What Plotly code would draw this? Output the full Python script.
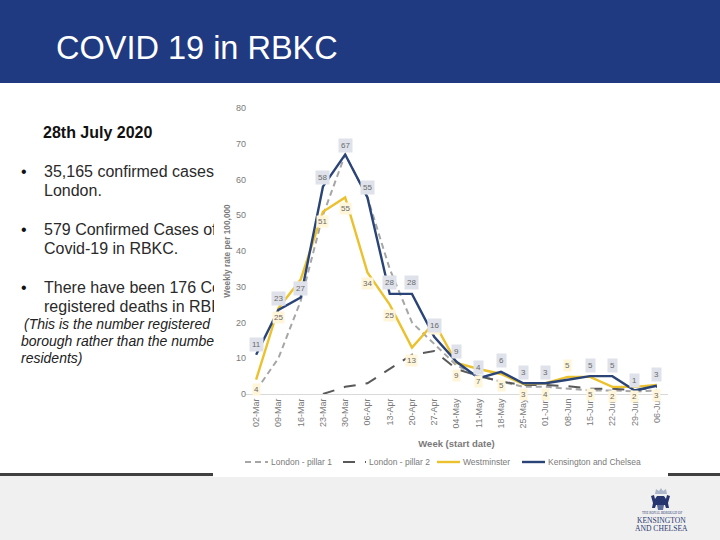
import plotly.graph_objects as go

weeks = ["02-Mar","09-Mar","16-Mar","23-Mar","30-Mar","06-Apr","13-Apr","20-Apr","27-Apr","04-May",
         "11-May","18-May","25-May","01-Jun","08-Jun","15-Jun","22-Jun","29-Jun","06-Jul"]
london_p1 = [1,10,26,50,67,55,35,20,14,8,5,3.5,2,2,1.5,1,1,0.7,1]
london_p2 = [None,None,None,0,2,3,7,11,12,7,5,3.5,2.5,2.5,2.2,1.5,1.5,1,2]
westminster = [4,24,32,51,55,34,25,13,20,8.7,7,5.6,2.8,3,4.8,4.8,2,2,2.5]
rbkc = [11,23.5,27,58,67,55,28,28,16,9,4.4,6.2,3,3,4,5,5,1,2.3]
west_labels = ["4","25","32","51","55","34","25","13","15","9","7","5","3","4","5","5","2","2","3"]
rbkc_labels = ["11","23","27","58","67","55","28","28","16","9","4","6","3","3",None,"5","5","1","3"]
west_label_shift = [-10,-9,-8,-10,-11,-11,-11,-13,-6,-13,-13,-12,-11,-11,11,-18,-10,-10,-10]
rbkc_label_shift = [10,11,9,9,9,10,11,11,11,10,11,11,11,11,10,11,11,10,11]
y_ticks = [0,10,20,30,40,50,60,70,80]

W, H = 720, 540
fx = lambda p: p / W
fy = lambda p: 1 - p / H
BLUE = "#1F3A80"
GREY = "#7A7A7A"
FONT = "Liberation Sans"
P1 = dict(color="#A6A6A6", width=2, dash="6px,4px")
P2 = dict(color="#595959", width=2, dash="12px,10px")
WM = dict(color="#EBC12E", width=2.4)
KC = dict(color="#2A4478", width=2.4)

fig = go.Figure()
fig.add_trace(go.Scatter(x=weeks, y=london_p1, name="London - pillar 1", mode="lines", line=P1))
fig.add_trace(go.Scatter(x=weeks, y=london_p2, name="London - pillar 2", mode="lines", line=P2))
fig.add_trace(go.Scatter(x=weeks, y=westminster, name="Westminster", mode="lines", line=WM))
fig.add_trace(go.Scatter(x=weeks, y=rbkc, name="Kensington and Chelsea", mode="lines", line=KC))

ann = []
def paper(x, y, text, size, color="#222222", anchor="left", family=FONT, **kw):
    d = dict(xref="paper", yref="paper", x=fx(x), y=fy(y), text=text, showarrow=False,
             xanchor=anchor, yanchor="middle", align="left", borderpad=0,
             font=dict(family=family, size=size, color=color))
    d.update(kw)
    ann.append(d)

paper(55, 48, "COVID 19 in RBKC", 32.5, "#FFFFFF")
paper(42, 133, "<b>28th July 2020</b>", 16, "#111111")
body = [(171, "35,165 confirmed cases"), (191, "London."),
        (229, "579 Confirmed Cases of"), (248, "Covid-19 in RBKC."),
        (287, "There have been 176 Co"), (306, "registered deaths in RBK")]
for y, t in body:
    paper(43, y, t, 16, "#2A2A2A", width=170)
for y in (171, 229, 287):
    paper(20, y, "•", 16, "#111111")
ital = [(324, 23, "<i>(This is the number registered</i>"),
        (341, 20, "<i>borough rather than the numbe</i>"),
        (358, 20, "<i>residents)</i>")]
for y, x, t in ital:
    paper(x, y, t, 14, "#222222", width=213 - x)

for i, w in enumerate(weeks):
    if west_labels[i] is not None:
        ann.append(dict(x=w, y=westminster[i], xref="x", yref="y", text=west_labels[i], showarrow=False,
                        yshift=west_label_shift[i], bgcolor="#FFF5D9", borderpad=1,
                        font=dict(family=FONT, size=8, color="#6A6A6A")))
for i, w in enumerate(weeks):
    if rbkc_labels[i] is not None:
        ann.append(dict(x=w, y=rbkc[i], xref="x", yref="y", text=rbkc_labels[i], showarrow=False,
                        yshift=rbkc_label_shift[i], bgcolor="#DFE2EA", borderpad=2,
                        font=dict(family=FONT, size=8, color="#6A6A6A")))

# legend drawn by hand: the reference's keys are shorter than Plotly's minimum item width
legend_items = [("London - pillar 1", P1, 245), ("London - pillar 2", P2, 343),
                ("Westminster", WM, 437), ("Kensington and Chelsea", KC, 522)]
for name, _, x in legend_items:
    paper(x + 25, 462, name, 8.5, GREY)

# logo wordmark
paper(661.5, 513, "THE ROYAL BOROUGH OF", 3.3, "#2A3A70", anchor="center", family="Liberation Serif")
paper(661.5, 520, "KENSINGTON", 7.6, "#2A3A70", anchor="center", family="Liberation Serif")
paper(661.5, 528, "AND CHELSEA", 7.6, "#2A3A70", anchor="center", family="Liberation Serif")

def rect(x0, y0, x1, y1, color, layer="below"):
    return dict(type="rect", xref="paper", yref="paper", x0=fx(x0), x1=fx(x1), y0=fy(y0), y1=fy(y1),
                fillcolor=color, line=dict(width=0), layer=layer)

def poly(points, color):
    path = "M " + " L ".join(f"{fx(x):.5f},{fy(y):.5f}" for x, y in points) + " Z"
    return dict(type="path", xref="paper", yref="paper", path=path, fillcolor=color,
                line=dict(width=0), layer="below")

shapes = [rect(0, 0, 720, 83, BLUE),
          rect(0, 476, 720, 540, "#F0F0F0"),
          rect(213, 470, 668, 477, "#FFFFFF"),
          rect(0, 473, 213, 476, "#404040"),
          rect(668, 473, 720, 476, "#404040"),
          # crest
          poly([(655, 494), (656, 489), (659, 491), (661, 488), (663, 491), (666, 489), (667, 494)], "#AEB6CC"),
          poly([(651, 496), (654, 495), (655, 499), (657, 496), (664, 496), (666, 499), (667, 495),
                (670, 496), (668, 503), (669, 508), (666, 508), (665, 505), (656, 505), (655, 508), (652, 508), (653, 503)], "#26356F"),
          poly([(657, 505), (664, 505), (663, 510), (658, 510)], "#5A6A9A")]
for name, style, x in legend_items:
    shapes.append(dict(type="line", xref="paper", yref="paper", x0=fx(x), x1=fx(x + 23),
                       y0=fy(462), y1=fy(462), line=style, layer="above"))

fig.update_layout(
    width=W, height=H, autosize=False, margin=dict(l=0, r=0, t=0, b=0, pad=0, autoexpand=False),
    paper_bgcolor="#FFFFFF", plot_bgcolor="#FFFFFF",
    font=dict(family=FONT, color=GREY),
    xaxis=dict(domain=[fx(245), fx(668)], type="category", categoryorder="array", categoryarray=weeks,
               range=[-0.5, 18.5], tickangle=-90, tickfont=dict(size=9, color=GREY),
               showgrid=False, zeroline=False, showline=True, linecolor="#D9D9D9", linewidth=1,
               ticks="", title=dict(text="<b>Week (start date)</b>", font=dict(size=9.5, color=GREY), standoff=12)),
    yaxis=dict(domain=[fy(394), fy(108)], range=[0, 80], tickvals=y_ticks,
               tickfont=dict(size=9, color=GREY), showgrid=False, zeroline=False, showline=False,
               ticks="", ticklabelstandoff=-2,
               title=dict(text="<b>Weekly rate per 100,000</b>", font=dict(size=8.3, color=GREY), standoff=4)),
    showlegend=False,
    annotations=ann, shapes=shapes,
)
fig.write_html("out.html", config={"displayModeBar": False},
               post_script="document.body.style.margin='0';document.body.style.overflow='hidden';")
